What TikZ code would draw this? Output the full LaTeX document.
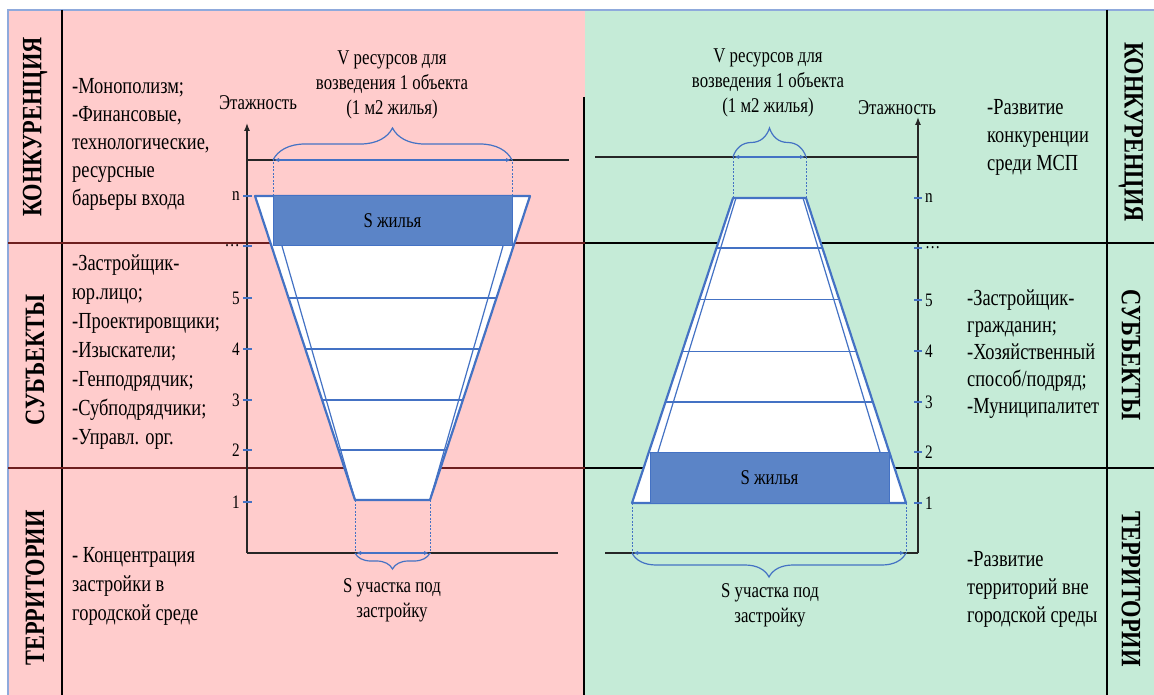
\documentclass[tikz,border=0pt]{standalone}
\usepackage{fontspec}
\setmainfont[FakeStretch=0.8]{Liberation Serif}
\usepackage{tikz}
\usetikzlibrary{arrows.meta,calc,decorations.pathreplacing}
\definecolor{fnPink}{HTML}{FFCCCC}
\definecolor{fnGreen}{HTML}{C5EBD7}
\definecolor{fnBlue}{HTML}{4472C4}
\definecolor{fnSlab}{HTML}{5B84C7}
\definecolor{fnFrame}{HTML}{8FAADC}
\definecolor{fnRed}{HTML}{6E1F1F}
\tikzset{
  bandlabel/.style={
    inner sep=0pt,
    font=\fontsize{28}{30}\selectfont\bfseries
  },
  sidetext/.style={
    anchor=north west,
    inner sep=0pt,
    align=left,
    font=\fontsize{23}{28}\selectfont
  },
  charttext/.style={
    align=center,
    inner sep=0pt,
    font=\fontsize{21}{25}\selectfont
  },
  ticklabel/.style={
    inner sep=0pt,
    font=\fontsize{19}{21}\selectfont
  },
  frameline/.style={draw=fnFrame, line width=1.5pt},
  panelline/.style={draw=black, line width=1.2pt},
  bandline/.style={draw=#1, line width=1.2pt},
  axisline/.style={
    draw=black!85,
    line width=1.3pt
  },
  shell/.style={
    draw=fnBlue,
    fill=white,
    line width=2.2pt,
    line join=round
  },
  floorline/.style={draw=fnBlue, line width=1.2pt},
  slab/.style={draw=fnBlue, fill=fnSlab, line width=1pt},
  guideline/.style={draw=fnBlue, line width=0.8pt, dash pattern=on 2pt off 1.5pt},
  dimarrow/.style={
    {Latex[length=6pt,width=4pt]}-{Latex[length=6pt,width=4pt]},
    draw=fnBlue,
    line width=1.2pt
  },
  braceup/.style={
    draw=fnBlue,
    line width=1.2pt,
    decorate,
    decoration={brace, amplitude=#1}
  },
  bracedown/.style={
    draw=fnBlue,
    line width=1.2pt,
    decorate,
    decoration={brace, mirror, amplitude=#1}
  },
  tickmark/.style={draw=fnBlue, line width=1.2pt}
}
\begin{document}
\begin{tikzpicture}[x=1pt,y=-1pt]
\useasboundingbox (0,0) rectangle (1154,695);

% panels
\fill[white] (0,0) rectangle (1154,695);
\fill[fnPink] (8,10) rectangle (585,695);
\fill[fnGreen] (585,10) rectangle (1154,695);
\draw[frameline] (8,695) -- (8,10) -- (1154,10);
\draw[panelline] (62,10) -- (62,695);
\draw[panelline] (584,97) -- (584,695);
\draw[panelline] (1107,10) -- (1107,695);
\draw[bandline=fnRed] (8,243) -- (585,243);
\draw[bandline=fnRed] (8,468) -- (585,468);
\draw[bandline=black] (585,243) -- (1154,243);
\draw[bandline=black] (585,468) -- (1154,468);

% band labels
\node[bandlabel, rotate=90] (konkL) at (35,127) {КОНКУРЕНЦИЯ};
\node[bandlabel, rotate=90] (subL) at (35,360) {СУБЪЕКТЫ};
\node[bandlabel, rotate=90] (terrL) at (35,588) {ТЕРРИТОРИИ};
\node[bandlabel, rotate=-90] (konkR) at (1131,132) {КОНКУРЕНЦИЯ};
\node[bandlabel, rotate=-90] (subR) at (1131,355) {СУБЪЕКТЫ};
\node[bandlabel, rotate=-90] (terrR) at (1131,589) {ТЕРРИТОРИИ};

% side texts
\node[sidetext] (konkTxtL) at (72,74) {\strut-Монополизм;\\-Финансовые,\\технологические,\\ресурсные\\барьеры входа};
\node[sidetext, font=\fontsize{23}{29}\selectfont] (subTxtL) at (72,250) {\strut-Застройщик-\\юр.лицо;\\-Проектировщики;\\-Изыскатели;\\-Генподрядчик;\\-Субподрядчики;\\-Управл. орг.};
\node[sidetext, font=\fontsize{23}{29}\selectfont] (terrTxtL) at (72,542) {\strut- Концентрация\\застройки в\\городской среде};
\node[sidetext] (konkTxtR) at (987,95) {\strut-Развитие\\конкуренции\\среди МСП};
\node[sidetext, font=\fontsize{23}{27}\selectfont] (subTxtR) at (967,286) {\strut-Застройщик-\\гражданин;\\-Хозяйственный\\способ/подряд;\\-Муниципалитет};
\node[sidetext] (terrTxtR) at (967,547) {\strut-Развитие\\территорий вне\\городской среды};

% left chart: inverted pyramid
\draw[axisline, -{Latex[length=8pt,width=6pt]}] (247,553) -- (247,123);
\draw[axisline] (247,553) -- (558,553);
\draw[axisline] (247,160) -- (569,160);
\node[charttext] (floorsL) at (258,103) {Этажность};

\coordinate (lTL) at (255,196);
\coordinate (lTR) at (530,196);
\coordinate (lBR) at (430,500);
\coordinate (lBL) at (355,500);
\draw[shell] (lTL) -- (lTR) -- (lBR) -- (lBL) -- cycle;
\foreach \t in {0.3355,0.5033,0.6711,0.8355}
  \draw[floorline] ($(lTL)!\t!(lBL)$) -- ($(lTR)!\t!(lBR)$);
\draw[floorline] (282,246) -- (lBL);
\draw[floorline] (503,246) -- (lBR);
\draw[slab] (273,196) rectangle (512,246);
\node[charttext] (slabL) at (392.5,221) {S жилья};

\foreach \y/\lab in {196/n,246/{…},298/5,349/4,400/3,450/2,502/1}{
  \draw[tickmark] (243,\y) -- (252,\y);
  \node[ticklabel, anchor=east] at (240,\y) {\lab};
}

\coordinate (lVa) at (273,160);
\coordinate (lVb) at (512,160);
\draw[guideline] (273,196) -- (lVa);
\draw[guideline] (512,196) -- (lVb);
\draw[dimarrow] (lVa) -- (lVb);
\draw[braceup=32pt] (lVa) -- (lVb);
\node[charttext] (volL) at (392,85) {V ресурсов для\\возведения 1 объекта\\(1 м2 жилья)};

\coordinate (lSa) at (355,553);
\coordinate (lSb) at (430,553);
\draw[guideline] (lBL) -- (lSa);
\draw[guideline] (lBR) -- (lSb);
\draw[dimarrow] (lSa) -- (lSb);
\draw[bracedown=16pt] (lSa) -- (lSb);
\node[charttext] (plotL) at (392,600) {S участка под\\застройку};

% right chart: pyramid
\draw[axisline, -{Latex[length=8pt,width=6pt]}] (918,553) -- (918,117);
\draw[axisline] (918,553) -- (605,553);
\draw[axisline] (595,157) -- (918,157);
\node[charttext] (floorsR) at (897,108) {Этажность};

\coordinate (rTL) at (733,198);
\coordinate (rTR) at (806,198);
\coordinate (rBR) at (906,503);
\coordinate (rBL) at (632,503);
\draw[shell] (rTL) -- (rTR) -- (rBR) -- (rBL) -- cycle;
\foreach \t in {0.164,0.334,0.502,0.669}
  \draw[floorline] ($(rTL)!\t!(rBL)$) -- ($(rTR)!\t!(rBR)$);
\draw[floorline] (736,198) -- (658,452);
\draw[floorline] (803,198) -- (880,452);
\draw[slab] (650,452) rectangle (889,503);
\node[charttext] (slabR) at (769.5,478) {S жилья};

\foreach \y/\lab in {198/n,248/{…},300/5,351/4,402/3,452/2,503/1}{
  \draw[tickmark] (914,\y) -- (922,\y);
  \node[ticklabel, anchor=west] at (925,\y) {\lab};
}

\coordinate (rVa) at (733,157);
\coordinate (rVb) at (806,157);
\draw[guideline] (rTL) -- (rVa);
\draw[guideline] (rTR) -- (rVb);
\draw[dimarrow] (rVa) -- (rVb);
\draw[braceup=29pt] (rVa) -- (rVb);
\node[charttext] (volR) at (768,83) {V ресурсов для\\возведения 1 объекта\\(1 м2 жилья)};

\coordinate (rSa) at (632,553);
\coordinate (rSb) at (906,553);
\draw[guideline] (rBL) -- (rSa);
\draw[guideline] (rBR) -- (rSb);
\draw[dimarrow] (rSa) -- (rSb);
\draw[bracedown=24pt] (rSa) -- (rSb);
\node[charttext] (plotR) at (770,605) {S участка под\\застройку};

\end{tikzpicture}
\end{document}
